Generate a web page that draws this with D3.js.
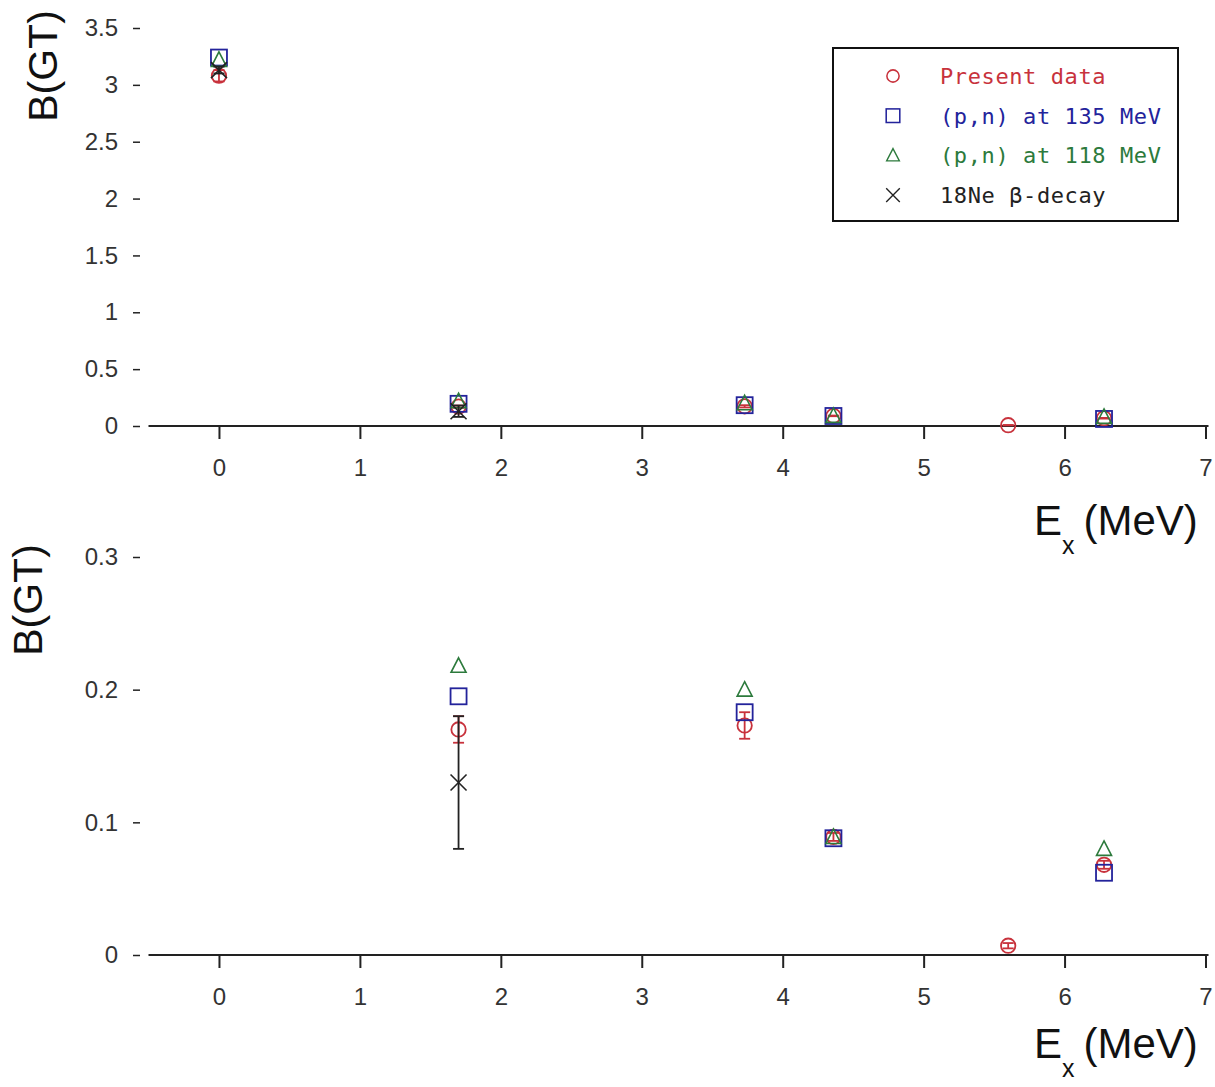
<!DOCTYPE html>
<html>
<head>
<meta charset="utf-8">
<script src="https://cdn.jsdelivr.net/npm/d3@7"></script>
<style>
  body { margin: 0; background: #fff; }
  svg { display: block; }
  .tick text { font-family: "Liberation Sans", Arial, sans-serif; font-size: 24px; fill: #333; }
</style>
</head>
<body>
<svg id="chart" width="1215" height="1087"></svg>
<script>
// excitation energies (MeV)
const levels = [0, 1.70, 3.73, 4.36, 5.60, 6.28];

// B(GT) per series, null where there is no value
const presentData = [3.08, 0.170, 0.173, 0.089, 0.007, 0.068];
const presentErr  = [0.05, 0.010, 0.010, 0.003, 0.002, 0.003];
const pn135 = [3.24, 0.195, 0.183, 0.088, null, 0.062];
const pn118 = [3.22, 0.218, 0.200, 0.089, null, 0.080];
const betaDecay    = [3.13, 0.130, null, null, null, null];
const betaDecayErr = [0.03, 0.050, null, null, null, null];

const xTicks = [0, 1, 2, 3, 4, 5, 6, 7];
const yTicksTop = [0, 0.5, 1, 1.5, 2, 2.5, 3, 3.5];
const yTicksBottom = [0, 0.1, 0.2, 0.3];

const series = [
  {name: "Present data",     color: "#c8323c", shape: "circle",   vals: presentData, err: presentErr},
  {name: "(p,n) at 135 MeV", color: "#23239b", shape: "square",   vals: pn135},
  {name: "(p,n) at 118 MeV", color: "#2c7a3c", shape: "triangle", vals: pn118},
  {name: "18Ne β-decay",     color: "#222222", shape: "cross",    vals: betaDecay, err: betaDecayErr}
];

const svg = d3.select("#chart");

const x = d3.scaleLinear().domain([-0.5, 7]).range([148.5, 1205.5]);

function marker(g, shape, color) {
  if (shape === "circle") {
    g.append("circle").attr("r", 7.2)
      .attr("fill", "none").attr("stroke", color).attr("stroke-width", 1.8);
  } else if (shape === "square") {
    g.append("rect").attr("x", -8).attr("y", -8).attr("width", 16).attr("height", 16)
      .attr("fill", "none").attr("stroke", color).attr("stroke-width", 1.8);
  } else if (shape === "triangle") {
    g.append("path").attr("d", "M0,-8L7.5,6.5L-7.5,6.5Z")
      .attr("fill", "none").attr("stroke", color).attr("stroke-width", 1.6);
  } else {
    g.append("path").attr("d", "M-8,-8L8,8M-8,8L8,-8")
      .attr("fill", "none").attr("stroke", color).attr("stroke-width", 1.6);
  }
}

function panel(yDomain, yRange, yTicks, yTitleX, yTitleY, xTitleY) {
  const y = d3.scaleLinear().domain(yDomain).range(yRange);
  const g = svg.append("g");

  // x axis
  const xa = g.append("g")
    .attr("transform", `translate(0,${yRange[0]})`)
    .call(d3.axisBottom(x).tickValues(xTicks).tickFormat(d3.format("d"))
      .tickSizeInner(13).tickSizeOuter(0).tickPadding(20));
  xa.select(".domain").attr("stroke", "#222").attr("stroke-width", 2)
    .attr("d", `M${x(-0.5)},0H${x(7) + 3}`);
  xa.selectAll(".tick line").attr("stroke", "#222").attr("stroke-width", 2);

  // y axis (ticks only, no line)
  const ya = g.append("g")
    .attr("transform", "translate(140,0)")
    .call(d3.axisLeft(y).tickValues(yTicks).tickFormat(d => d)
      .tickSizeInner(7).tickSizeOuter(0).tickPadding(15));
  ya.select(".domain").remove();
  ya.selectAll(".tick line").attr("stroke", "#222").attr("stroke-width", 1.5);

  // axis titles
  g.append("text")
    .attr("transform", `translate(${yTitleX},${yTitleY}) rotate(-90)`)
    .attr("text-anchor", "middle")
    .style("font-family", "Liberation Sans, Arial, sans-serif")
    .style("font-size", "41px").attr("fill", "#111")
    .text("B(GT)");

  const xt = g.append("text")
    .attr("x", 1034).attr("y", xTitleY)
    .style("font-family", "Liberation Sans, Arial, sans-serif")
    .style("font-size", "42px").attr("fill", "#111");
  xt.append("tspan").text("E");
  xt.append("tspan").attr("dy", 19).style("font-size", "25px").text("x");
  xt.append("tspan").attr("dy", -19).attr("dx", 9).text("(MeV)");

  // data
  const [lo, hi] = yDomain;
  series.forEach(s => {
    const pts = levels.map((e, i) => ({e, v: s.vals[i], err: s.err ? s.err[i] : null}))
      .filter(p => p.v != null && p.v >= lo && p.v <= hi);

    if (s.err) {
      const eb = g.append("g").selectAll("g").data(pts.filter(p => p.err)).join("g")
        .attr("stroke", s.color).attr("stroke-width", 1.8);
      eb.append("line")
        .attr("x1", p => x(p.e)).attr("x2", p => x(p.e))
        .attr("y1", p => y(p.v - p.err)).attr("y2", p => y(p.v + p.err));
      eb.append("line")
        .attr("x1", p => x(p.e) - 5.5).attr("x2", p => x(p.e) + 5.5)
        .attr("y1", p => y(p.v - p.err)).attr("y2", p => y(p.v - p.err));
      eb.append("line")
        .attr("x1", p => x(p.e) - 5.5).attr("x2", p => x(p.e) + 5.5)
        .attr("y1", p => y(p.v + p.err)).attr("y2", p => y(p.v + p.err));
    }

    g.append("g").selectAll("g").data(pts).join("g")
      .attr("transform", p => `translate(${x(p.e)},${y(p.v)})`)
      .each(function() { marker(d3.select(this), s.shape, s.color); });
  });
  return y;
}

panel([0, 3.5], [426, 28], yTicksTop, 57, 66, 535);
panel([0, 0.3], [955, 557], yTicksBottom, 42, 600, 1058);

// legend
const lg = svg.append("g");
lg.append("rect").attr("x", 833).attr("y", 48).attr("width", 345).attr("height", 173)
  .attr("fill", "#fff").attr("stroke", "#111").attr("stroke-width", 2);
series.forEach((s, i) => {
  const cy = 76 + i * 39.7;
  const mg = lg.append("g").attr("transform", `translate(893,${cy}) scale(0.85)`);
  marker(mg, s.shape, s.color);
  lg.append("text")
    .attr("x", 940).attr("y", cy + 8)
    .style("font-family", "DejaVu Sans Mono, monospace")
    .style("font-size", "22px").style("letter-spacing", "0.6px")
    .attr("fill", s.color)
    .text(s.name);
});
</script>
</body>
</html>
